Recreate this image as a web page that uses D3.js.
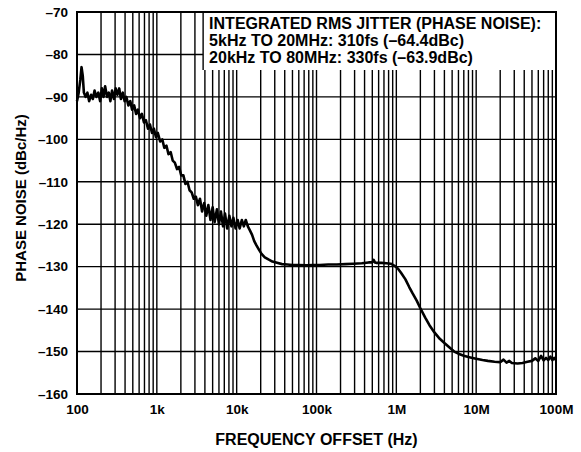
<!DOCTYPE html>
<html>
<head>
<meta charset="utf-8">
<script src="https://cdn.jsdelivr.net/npm/d3@7"></script>
<style>
  body { margin: 0; background: #fff; }
  text { font-family: "Liberation Sans", Arial, sans-serif; font-weight: bold; fill: #000; }
</style>
</head>
<body>
<div id="chart"></div>
<script>
// frequency offset (Hz) and phase noise (dBc/Hz)
var freqs = [100, 105, 110, 114, 118, 122, 128, 135, 142, 150, 158, 166, 175, 185, 195, 205, 215, 225, 238, 250,
    262, 275, 290, 305, 320, 338, 355, 375, 395, 415, 440, 465, 490, 520, 550, 580, 615, 650, 690, 730,
    775, 820, 870, 920, 975, 1030, 1100, 1170, 1240, 1320, 1400, 1490, 1580, 1680, 1790, 1900, 2020, 2150, 2280, 2420,
    2570, 2730, 2900, 3080, 3270, 3470, 3690, 3920, 4160, 4420, 4700, 5000, 5300, 5650, 6000, 6350, 6750, 7150, 7600, 8100,
    8600, 9100, 9700, 10300, 10900, 11600, 12300, 13000, 13800, 14700, 15600, 16600, 17700, 19000, 20500, 22500, 25000, 28000, 32000, 37000,
    43000, 50000, 60000, 75000, 90000, 110000, 140000, 180000, 230000, 290000, 370000, 450000, 500000, 520000, 540000, 560000, 650000, 750000, 850000, 950000,
    1050000, 1150000, 1300000, 1450000, 1600000, 1800000, 2000000, 2300000, 2600000, 3000000, 3500000, 4000000, 4600000, 5300000, 6000000, 7000000, 8000000, 9000000, 10000000, 12000000,
    14000000, 17000000, 20000000, 22000000, 24000000, 26000000, 28000000, 33000000, 38000000, 44000000, 50000000, 55000000, 60000000, 65000000, 70000000, 75000000, 80000000, 85000000, 90000000, 95000000, 100000000];
var noise = [-91, -89, -86, -83, -85, -89, -90, -89, -91, -89.5, -90.5, -88.5, -90, -89, -91, -88, -90, -87.5, -90, -89,
    -91, -88.5, -90.5, -88, -89.5, -88, -90.5, -89, -91, -90, -92, -91, -93, -92, -94, -93, -95, -94, -96, -95.5,
    -97.5, -96.5, -98.5, -97.5, -99.5, -98.5, -100.5, -100, -102, -101.5, -103.5, -103, -105, -105.5, -107, -106.5, -108.5, -108.5, -110.5, -110,
    -112, -112.5, -114, -113.5, -115.5, -114, -117, -115, -118, -115.5, -119, -116, -119.5, -116.5, -120, -117, -120.5, -117.5, -121, -118,
    -120.5, -118.5, -121, -119, -121, -119, -120.5, -119, -120.5, -121.5, -122.5, -124, -125, -126, -127, -127.8, -128.3, -128.8, -129.1, -129.4,
    -129.5, -129.6, -129.6, -129.7, -129.6, -129.6, -129.5, -129.5, -129.4, -129.3, -129.2, -129.0, -129.0, -128.4, -129.0, -129.1, -129.1, -129.2, -129.3, -129.8,
    -130.5, -131.5, -133, -134.8, -136.3, -138, -139.8, -142, -143.8, -145.5, -147, -148, -149, -150, -150.5, -151, -151.3, -151.5, -151.7, -152,
    -152.2, -152.4, -152.5, -151.9, -152.6, -152.2, -152.7, -152.8, -152.7, -152.4, -152.2, -151.6, -152.2, -151.0, -152.1, -151.5, -152.0, -151.2, -152.0, -151.5, -152.0];

var xTicks = [100, 1e3, 1e4, 1e5, 1e6, 1e7, 1e8];
var xTickLabels = ["100", "1k", "10k", "100k", "1M", "10M", "100M"];
var yTicks = [-70, -80, -90, -100, -110, -120, -130, -140, -150, -160];

var noteLines = ["INTEGRATED RMS JITTER (PHASE NOISE):",
    "5kHz TO 20MHz: 310fs (\u201364.4dBc)",
    "20kHz TO 80MHz: 330fs (\u201363.9dBc)"];

var margin = {top: 12, right: 25, bottom: 58, left: 77},
    width = 581 - margin.left - margin.right,
    height = 452 - margin.top - margin.bottom;

var svg = d3.select("#chart")
  .append("svg")
    .attr("width", 581)
    .attr("height", 452)
  .append("g")
    .attr("transform", "translate(" + margin.left + "," + margin.top + ")");

var x = d3.scaleLog().domain([100, 1e8]).range([0, width]);
var y = d3.scaleLinear().domain([-160, -70]).range([height, 0]);

// minor grid: 1..9 in every decade
var grid = [];
for (var d = 100; d < 1e8; d *= 10) {
    for (var k = 2; k < 10; k++) grid.push(d * k);
}
svg.selectAll(".vgrid")
    .data(grid.concat(xTicks))
    .enter()
    .append("line")
    .attr("x1", function(d) { return x(d); })
    .attr("x2", function(d) { return x(d); })
    .attr("y1", 0)
    .attr("y2", height)
    .attr("stroke", "#000")
    .attr("stroke-width", 1.4);

svg.selectAll(".hgrid")
    .data(yTicks)
    .enter()
    .append("line")
    .attr("x1", 0)
    .attr("x2", width)
    .attr("y1", function(d) { return y(d); })
    .attr("y2", function(d) { return y(d); })
    .attr("stroke", "#000")
    .attr("stroke-width", 1.4);

// white box behind the note
var boxX = x(3800);
svg.append("rect")
    .attr("x", boxX)
    .attr("y", 0)
    .attr("width", width - boxX)
    .attr("height", 58)
    .attr("fill", "#fff");

svg.append("line")
    .attr("x1", boxX).attr("x2", boxX)
    .attr("y1", 0).attr("y2", 58)
    .attr("stroke", "#000").attr("stroke-width", 1.4);

svg.selectAll(".note")
    .data(noteLines)
    .enter()
    .append("text")
    .attr("x", boxX + 6)
    .attr("y", function(d, i) { return 17 + i * 17; })
    .style("font-size", "16px")
    .text(function(d) { return d; });

// border
svg.append("rect")
    .attr("width", width)
    .attr("height", height)
    .attr("fill", "none")
    .attr("stroke", "#000")
    .attr("stroke-width", 2);

// axes (labels only)
var xAxis = svg.append("g")
    .attr("transform", "translate(0," + height + ")")
    .call(d3.axisBottom(x).tickValues(xTicks).tickSize(0).tickPadding(10)
        .tickFormat(function(d, i) { return xTickLabels[i]; }));
xAxis.select(".domain").remove();
xAxis.selectAll("text")
    .style("font-size", "13.5px");

var yAxis = svg.append("g")
    .call(d3.axisLeft(y).tickValues(yTicks).tickSize(0).tickPadding(9)
        .tickFormat(function(d) { return String(d).replace("-", "\u2013"); }));
yAxis.select(".domain").remove();
yAxis.selectAll("text")
    .style("font-size", "13.5px");

// curve
var data = freqs.map(function(f, i) { return {f: f, v: noise[i]}; });
svg.append("path")
    .datum(data)
    .attr("fill", "none")
    .attr("stroke", "#000")
    .attr("stroke-width", 2.6)
    .attr("stroke-linejoin", "round")
    .attr("d", d3.line()
        .x(function(d) { return x(d.f); })
        .y(function(d) { return y(d.v); }));

// axis titles
svg.append("text")
    .attr("x", width / 2)
    .attr("y", height + 51)
    .attr("text-anchor", "middle")
    .style("font-size", "16px")
    .text("FREQUENCY OFFSET (Hz)");

svg.append("text")
    .attr("x", -186)
    .attr("y", -51)
    .attr("transform", "rotate(-90)")
    .attr("text-anchor", "middle")
    .style("font-size", "15px")
    .text("PHASE NOISE (dBc/Hz)");
</script>
</body>
</html>
